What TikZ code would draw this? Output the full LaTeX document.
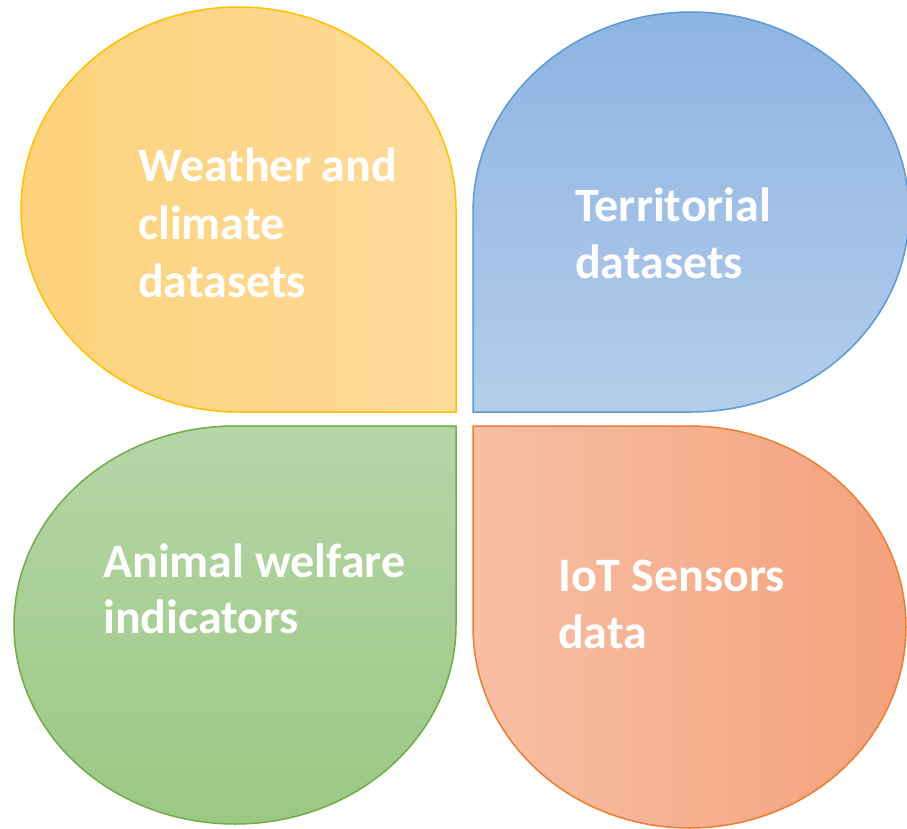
\documentclass[tikz,border=0pt]{standalone}
\usepackage{fontspec}
\setmainfont{Carlito}
\definecolor{ylwline}{HTML}{FFC000}
\definecolor{ylwA}{HTML}{FDD27B}
\definecolor{ylwB}{HTML}{FEDB9B}
\definecolor{bluline}{HTML}{5B9BD5}
\definecolor{bluA}{HTML}{8DB3E2}
\definecolor{bluB}{HTML}{B4CDEA}
\definecolor{grnline}{HTML}{70AD47}
\definecolor{grnA}{HTML}{B5D6A7}
\definecolor{grnB}{HTML}{9BC884}
\definecolor{orgline}{HTML}{ED7D31}
\definecolor{orgA}{HTML}{F8BFA5}
\definecolor{orgB}{HTML}{F4A17C}
\tikzset{
  petal/.style={line width=1.5pt},
  lbl/.style={anchor=base west, inner sep=0pt, text=white,
    font=\fontsize{48}{57}\selectfont\bfseries}
}
\begin{document}
\begin{tikzpicture}[x=1pt,y=-1pt]
\useasboundingbox (0,0) rectangle (907,829);
% top-left petal
\path[petal, draw=ylwline, left color=ylwA, right color=ylwB]
  (456,412) -- (238.5,412) arc[start angle=90,end angle=360,x radius=217.5,y radius=202.5] -- cycle;
% top-right petal
\path[petal, draw=bluline, top color=bluA, bottom color=bluB]
  (473,412) -- (473,212) arc[start angle=180,end angle=450,x radius=218,y radius=200] -- cycle;
% bottom-left petal
\path[petal, draw=grnline, top color=grnA, bottom color=grnB]
  (456,426) -- (456,625) arc[start angle=0,end angle=270,x radius=221,y radius=199] -- cycle;
% bottom-right petal
\path[petal, draw=orgline, left color=orgA, right color=orgB]
  (473,426) -- (689.5,426) arc[start angle=-90,end angle=180,x radius=216.5,y radius=201] -- cycle;
% labels
\node[lbl] (w1) at (138,182) {Weather and};
\node[lbl] (w2) at (138,239) {climate};
\node[lbl] (w3) at (138,297) {datasets};
\node[lbl] (t1) at (575,221) {Territorial};
\node[lbl] (t2) at (575,278) {datasets};
\node[lbl] (a1) at (103,577) {Animal welfare};
\node[lbl] (a2) at (103,633) {indicators};
\node[lbl] (i1) at (558,591) {IoT Sensors};
\node[lbl] (i2) at (558,648) {data};
\end{tikzpicture}
\end{document}
